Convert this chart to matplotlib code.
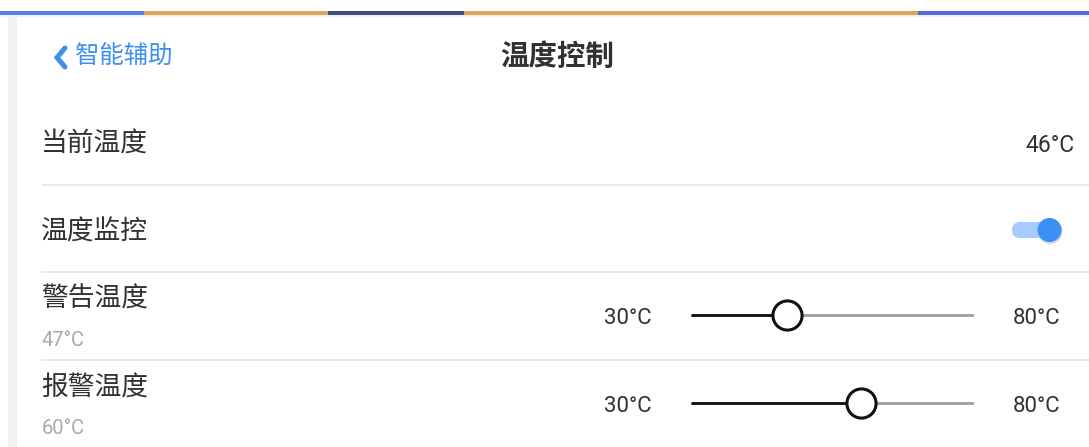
import matplotlib
matplotlib.use("Agg")
import matplotlib.pyplot as plt
from matplotlib.patches import Rectangle, FancyBboxPatch, Circle

plt.rcParams['font.family'] = ['Noto Sans CJK SC', 'DejaVu Sans']
NUM_FONT = ['Roboto', 'Noto Sans CJK SC', 'DejaVu Sans']

# 数据
back_label = "智能辅助"
page_title = "温度控制"
row_labels = ["当前温度", "温度监控", "警告温度", "报警温度"]
current_temp = 46
monitor_on = True
slider_min = 30
slider_max = 80
slider_values = [47, 60]          # 警告温度, 报警温度
top_bar_breaks = [0, 144, 328, 464, 918, 1089]
top_bar_colors = ["#5b7fea", "#dea652", "#3d4f7c", "#dea652", "#5566e0"]

W, H = 1089, 447
fig = plt.figure(figsize=(W / 100, H / 100), dpi=100)
ax = fig.add_axes([0, 0, 1, 1])
ax.set_xlim(0, W)
ax.set_ylim(H, 0)
ax.axis("off")

TXT = "#303133"
SUB = "#a8a8a8"
LINE = "#e6e6e6"
BLUE = "#3f8ff0"

# 顶部彩条
for i, c in enumerate(top_bar_colors):
    ax.add_patch(Rectangle((top_bar_breaks[i], 11), top_bar_breaks[i + 1] - top_bar_breaks[i], 4,
                           color=c, lw=0))
ax.add_patch(Rectangle((0, 15), W, 2, color="#f2f2f2", lw=0))
# 左侧灰条
ax.add_patch(Rectangle((8, 15), 9, H - 15, color="#f1f1f1", lw=0))

# 导航栏
ax.plot([65, 57, 65], [48, 57.5, 67], color=BLUE, lw=3.6, solid_capstyle="round",
        solid_joinstyle="miter")
ax.text(75, 57, back_label, fontsize=17.6, color=BLUE, va="center", ha="left")
ax.text(557, 57, page_title, fontsize=20.5, color=TXT, va="center", ha="center",
        fontweight="bold")

# 行
row_y = [144, 232, 299, 388]
for lab, y in zip(row_labels, row_y):
    ax.text(41, y, lab, fontsize=19.3, color=TXT, va="center", ha="left", fontweight=500)

for y in [185, 272, 360]:
    ax.plot([42, W], [y, y], color=LINE, lw=1.2)

ax.text(1075, 146, f"{current_temp}°C", fontsize=16.5, color=TXT, va="center", ha="right",
        family=NUM_FONT)

# 开关
track_col = "#a6cbff" if monitor_on else "#dcdfe6"
ax.add_patch(FancyBboxPatch((1012, 222), 46, 16, boxstyle="round,pad=0,rounding_size=8",
                            color=track_col, lw=0))
ax.add_patch(Circle((1050, 231.5), 12.5, color="#d9d9d9", lw=0, zorder=3))
ax.add_patch(Circle((1049.5, 230), 12, color="#3b8ff5", lw=0, zorder=4))

# 滑块
sub_y = [340, 428]
slider_y = [315, 403]
for v, sy, ty in zip(slider_values, sub_y, slider_y):
    ax.text(42, sy, f"{v}°C", fontsize=14.5, color=SUB, va="center", ha="left",
            family=NUM_FONT)
    ax.text(628, ty + 3, f"{slider_min}°C", fontsize=16, color=TXT, va="center", ha="center",
            family=NUM_FONT)
    ax.text(1037, ty + 3, f"{slider_max}°C", fontsize=16, color=TXT, va="center", ha="center",
            family=NUM_FONT)
    # 每个滑块用自己的坐标轴, 数值映射到位置
    left, right = 691 / W, 974 / W
    h = 30 / H
    bottom = 1 - (ty + 15) / H
    sax = fig.add_axes([left, bottom, right - left, h])
    sax.set_xlim(slider_min, slider_max)
    sax.set_ylim(-1, 1)
    sax.axis("off")
    sax.plot([slider_min, slider_max], [0, 0], color="#9e9e9e", lw=2, solid_capstyle="butt")
    sax.plot([slider_min, v], [0, 0], color="#111111", lw=2, solid_capstyle="butt")
    sax.plot([v], [0], marker="o", ms=21, mfc="white", mec="#111111", mew=2.2, zorder=5,
             clip_on=False)

fig.savefig("out.png", dpi=100)
